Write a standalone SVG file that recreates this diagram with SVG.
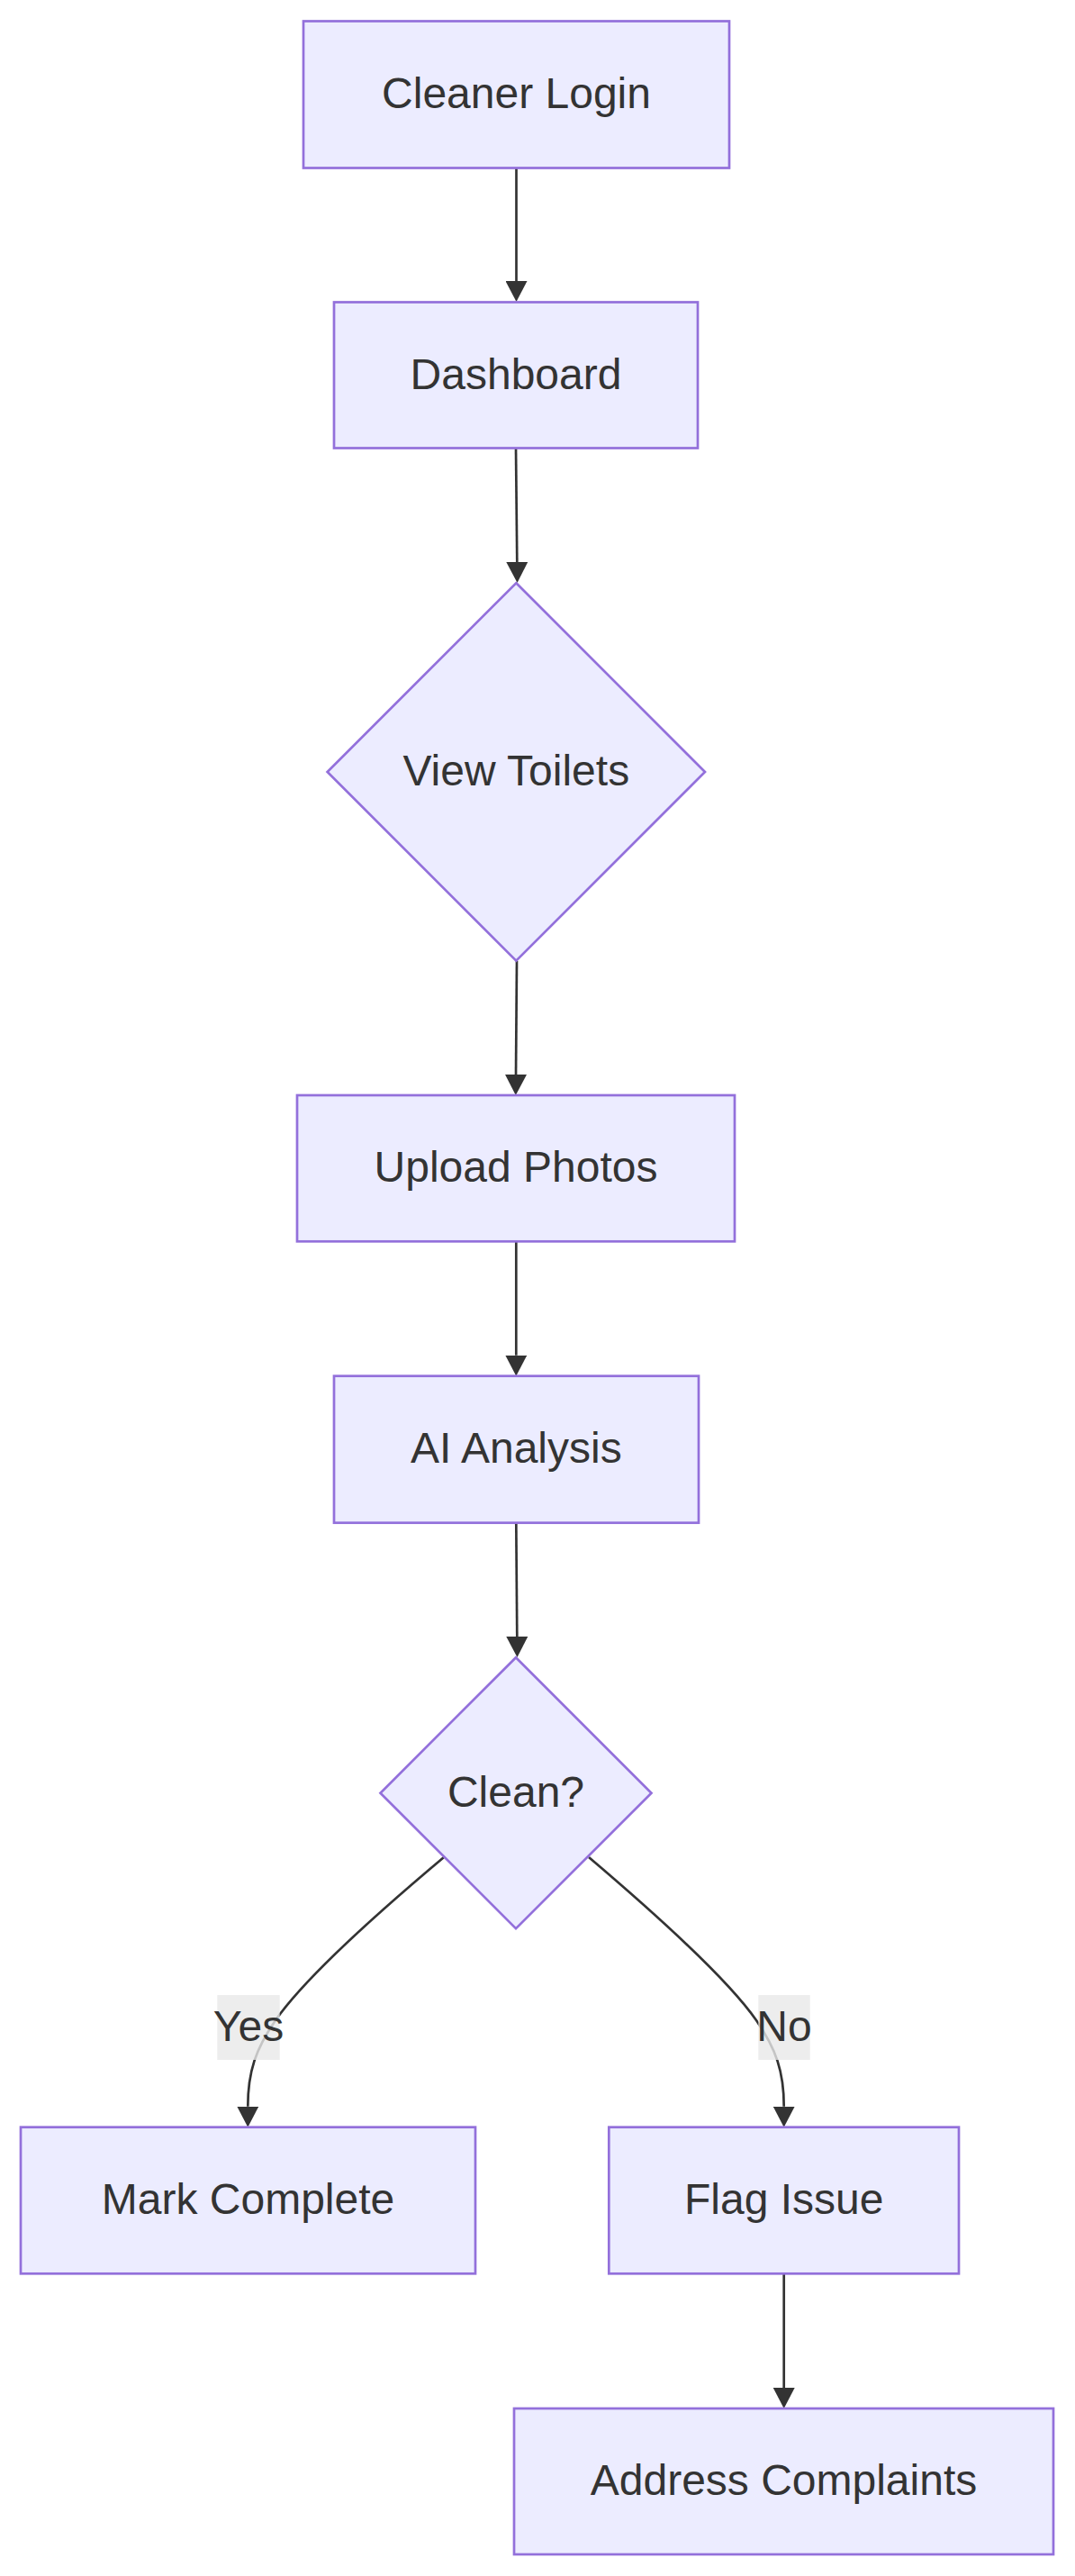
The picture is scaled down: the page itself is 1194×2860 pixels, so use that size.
<svg xmlns="http://www.w3.org/2000/svg" width="1194" height="2860" viewBox="0 0 1194 2860">
<style>
.node rect, .node polygon { fill: #ECECFF; stroke: #9370DB; stroke-width: 2.7; }
.node text, .elabel text { font-family: "Liberation Sans", Arial, sans-serif; font-size: 48px; fill: #333333; text-anchor: middle; }
.edge { fill: none; stroke: #333333; stroke-width: 2.7; marker-end: url(#arrow); }
.elabel rect { fill: rgba(232,232,232,0.8); stroke: none; }
</style>
<defs>
<marker id="arrow" markerUnits="userSpaceOnUse" markerWidth="23" markerHeight="24" viewBox="0 0 23 24" refX="0" refY="12" orient="auto">
<path d="M0,0 L23,12 L0,24 Z" fill="#333333"/>
</marker>
</defs>
<rect width="1194" height="2860" fill="#ffffff"/>
<g id="connectors">
<path class="edge" d="M573.5,187 L573.5,312"/>
<path class="edge" d="M573,497.5 L574.3,624"/>
<path class="edge" d="M574,1067 L573,1193"/>
<path class="edge" d="M573.3,1378.3 L573.3,1504.7"/>
<path class="edge" d="M573.3,1690.7 L574.3,1817"/>
<path class="edge" d="M493,2062 C406,2135 336,2200 306,2243 C284,2275 275.3,2300 275.3,2338.7"/>
<path class="edge" d="M654,2062 C740,2135 810,2200 840,2243 C862,2275 870.7,2300 870.7,2338.7"/>
<path class="edge" d="M870.7,2524.3 L870.7,2651"/>
</g>
<g id="edge-labels">
<g class="elabel" id="label-yes"><rect x="241.3" y="2215" width="69.4" height="72"/><text x="276" y="2266">Yes</text></g>
<g class="elabel" id="label-no"><rect x="842.3" y="2215" width="57.4" height="72"/><text x="871" y="2266">No</text></g>
</g>
<g class="node" id="node-cleaner-login"><rect x="337" y="23.5" width="473" height="163"/><text x="573.5" y="120">Cleaner Login</text></g>
<g class="node" id="node-dashboard"><rect x="371" y="335.5" width="404" height="162"/><text x="573" y="431.5">Dashboard</text></g>
<g class="node" id="node-view-toilets"><polygon points="573.3,647.3 783,857 573.3,1066.7 363.6,857"/><text x="573.3" y="872">View Toilets</text></g>
<g class="node" id="node-upload-photos"><rect x="330" y="1216" width="486" height="162.3"/><text x="573" y="1312">Upload Photos</text></g>
<g class="node" id="node-ai-analysis"><rect x="371" y="1527.7" width="405" height="163"/><text x="573.3" y="1624">AI Analysis</text></g>
<g class="node" id="node-clean"><polygon points="573,1840.2 723.5,1990.7 573,2141.2 422.5,1990.7"/><text x="573" y="2005.7">Clean?</text></g>
<g class="node" id="node-mark-complete"><rect x="23" y="2361.7" width="505" height="162.6"/><text x="275.5" y="2458">Mark Complete</text></g>
<g class="node" id="node-flag-issue"><rect x="676.3" y="2361.7" width="388.7" height="162.6"/><text x="870.7" y="2458">Flag Issue</text></g>
<g class="node" id="node-address-complaints"><rect x="571" y="2674" width="599" height="162"/><text x="870.5" y="2770">Address Complaints</text></g>
</svg>
